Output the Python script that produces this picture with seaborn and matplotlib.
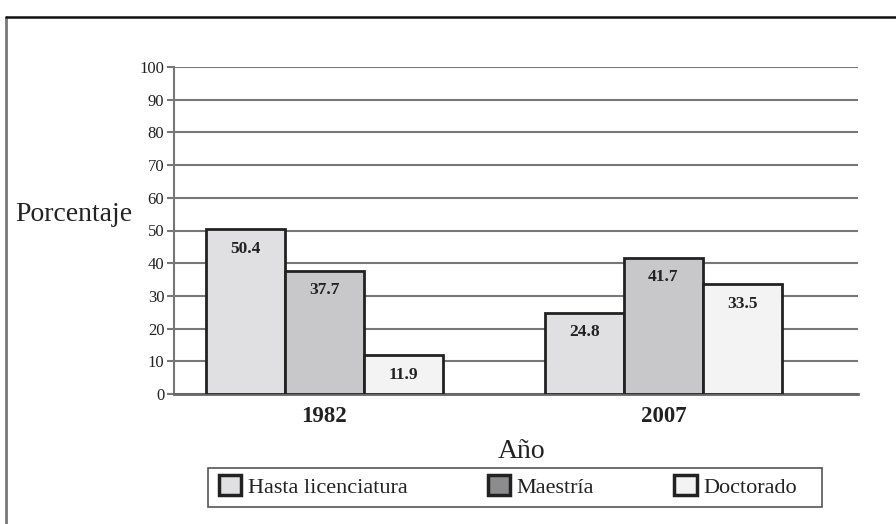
import matplotlib
matplotlib.use("Agg")
import matplotlib.pyplot as plt
import seaborn as sns
import pandas as pd
from matplotlib.lines import Line2D
from matplotlib.patches import Rectangle

years = ["1982", "2007"]
niveles = ["Hasta licenciatura", "Maestr\u00eda", "Doctorado"]
valores_1982 = [50.4, 37.7, 11.9]
valores_2007 = [24.8, 41.7, 33.5]
y_ticks = [0, 10, 20, 30, 40, 50, 60, 70, 80, 90, 100]

colores = dict(zip(niveles, ["#e0e0e2", "#c8c8ca", "#f2f3f2"]))
color_leyenda_maestria = "#8c8c8e"

df = pd.DataFrame({
    "Anio": [y for y in years for _ in niveles],
    "Nivel": niveles * len(years),
    "Porcentaje": valores_1982 + valores_2007,
})

sns.set_style("white")
plt.rcParams["font.family"] = ["Liberation Serif", "DejaVu Serif"]

fig = plt.figure(figsize=(8.96, 5.24), dpi=100)
ax = fig.add_axes([174 / 896, 1 - 394 / 524, (858 - 174) / 896, (394 - 67) / 524])

sns.barplot(data=df, x="Anio", y="Porcentaje", hue="Nivel", hue_order=niveles,
            palette=colores, width=0.7, edgecolor="#222222", linewidth=2,
            saturation=1, ax=ax, legend=True, zorder=3)

ax.set_ylim(0, 100)
ax.set_xlim(-0.444, 1.574)
ax.set_yticks(y_ticks)
ax.yaxis.grid(True, color="#777777", linewidth=1.5, zorder=0)
ax.set_axisbelow(True)
for s in ["top", "right"]:
    ax.spines[s].set_visible(False)
ax.spines["left"].set_color("#777777")
ax.spines["left"].set_linewidth(1.5)
ax.spines["bottom"].set_color("#666666")
ax.spines["bottom"].set_linewidth(2)
ax.tick_params(axis="y", direction="out", length=5, width=1.5, color="#777777",
               labelsize=12, pad=2, left=True, labelcolor="#222222")
ax.tick_params(axis="x", length=0, pad=9)
for lab in ax.get_xticklabels():
    lab.set_fontsize(16.5)
    lab.set_fontweight("bold")
    lab.set_color("#222222")
ax.set_xlabel("")
ax.set_ylabel("")

for cont in ax.containers:
    for bar in cont:
        h = bar.get_height()
        ax.annotate(f"{h:.1f}", (bar.get_x() + bar.get_width() / 2, h),
                    xytext=(0, -14), textcoords="offset points",
                    ha="center", va="center", fontsize=12.5, fontweight="bold",
                    color="#222222", zorder=4)

handles, labels = ax.get_legend_handles_labels()
ax.get_legend().remove()
fig.add_artist(Rectangle((208 / 896, 1 - 507 / 524), 614 / 896, 39 / 524,
                         transform=fig.transFigure, facecolor="white",
                         edgecolor="#555555", linewidth=1.2))
leg = fig.legend(handles, labels, loc="center", ncol=3, mode="expand",
                 bbox_to_anchor=(219 / 896, 1 - 505 / 524, (797 - 219) / 896, 37 / 524),
                 bbox_transform=fig.transFigure, frameon=False,
                 prop={"family": ["Liberation Serif", "DejaVu Serif"], "size": 16},
                 handlelength=1.0, handleheight=0.95, handletextpad=0.3,
                 borderpad=0, borderaxespad=0, labelcolor="#222222")
for hnd in leg.legend_handles:
    hnd.set_edgecolor("#222222")
    hnd.set_linewidth(2.5)
leg.legend_handles[1].set_facecolor(color_leyenda_maestria)

fig.text(74 / 896, 1 - 214 / 524, "Porcentaje", ha="center", va="center",
         fontsize=20, color="#222222")
fig.text(522 / 896, 1 - 452 / 524, "A\u00f1o", ha="center", va="center",
         fontsize=20, color="#222222")

fig.add_artist(Line2D([6 / 896, 6 / 896], [1 - 17 / 524, 0], color="#777777", linewidth=2))
fig.add_artist(Line2D([6 / 896, 1], [1 - 17 / 524, 1 - 17 / 524], color="#111111", linewidth=1.8))

fig.savefig("out.png", dpi=100)
